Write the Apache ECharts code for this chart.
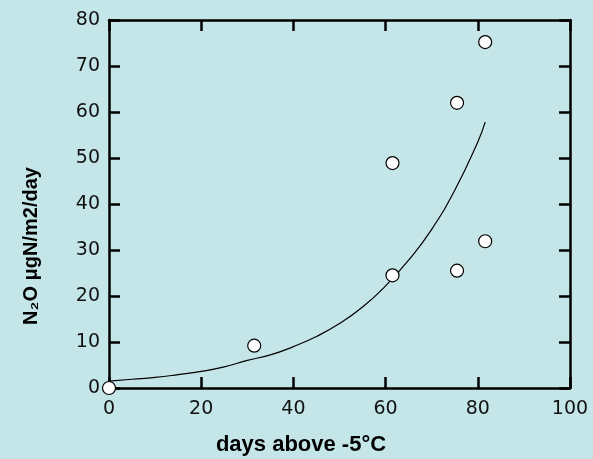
<!DOCTYPE html>
<html lang="en">
<head>
  <meta charset="UTF-8">
  <title>N2O vs days above -5°C</title>
  <script src="https://cdn.jsdelivr.net/npm/echarts@6.0.0/dist/echarts.min.js"></script>
  <style>
    html, body { margin: 0; padding: 0; background: #c5e6e8; }
  </style>
</head>
<body>

  <div id="main" style="width: 593px;height:459px;"></div>

  <script type="text/javascript">
    // Measured points (days, N2O)
    const pointDays = [0, 31.5, 61.5, 61.5, 75.5, 75.5, 81.6, 81.6];
    const pointN2O = [0, 9.2, 24.5, 48.9, 62.0, 25.5, 75.2, 31.9];

    // Fitted curve
    const curveDays = [0, 5, 10, 15, 20, 25, 30, 35, 40, 45, 50, 55, 60, 65, 70, 75, 80, 81.6];
    const curveN2O = [1.5, 1.9, 2.3, 2.9, 3.6, 4.6, 6.0, 7.2, 9.0, 11.2, 14.0, 17.6, 22.2, 27.8, 34.5, 43.0, 53.5, 57.8];

    const xTicks = [0, 20, 40, 60, 80, 100];
    const yTicks = [0, 10, 20, 30, 40, 50, 60, 70, 80];

    let myChart = echarts.init(document.getElementById('main'));

    const labelFont = { color: '#111', fontSize: 19, fontFamily: 'DejaVu Sans' };
    const lineStyle = { color: '#000', width: 2.5 };

    let options = {
      backgroundColor: '#c5e6e8',
      animation: false,
      grid: { left: 109, right: 23, top: 20, bottom: 71 },
      xAxis: [
        {
          type: 'value', min: 0, max: 100, interval: 20,
          axisLine: { show: true, onZero: false, lineStyle: lineStyle },
          axisTick: { show: true, inside: true, length: 11, lineStyle: lineStyle },
          axisLabel: Object.assign({ margin: 12, formatter: v => xTicks.includes(v) ? v : '' }, labelFont),
          splitLine: { show: false }
        },
        {
          type: 'value', position: 'top', min: 0, max: 100, interval: 20,
          axisLine: { show: true, onZero: false, lineStyle: lineStyle },
          axisTick: { show: true, inside: true, length: 11, lineStyle: lineStyle },
          axisLabel: { show: false },
          splitLine: { show: false }
        }
      ],
      yAxis: [
        {
          type: 'value', min: 0, max: 80, interval: 10,
          axisLine: { show: true, onZero: false, lineStyle: lineStyle },
          axisTick: { show: true, inside: true, length: 11, lineStyle: lineStyle },
          axisLabel: Object.assign({ margin: 9, formatter: v => yTicks.includes(v) ? v : '' }, labelFont),
          splitLine: { show: false }
        },
        {
          type: 'value', position: 'right', min: 0, max: 80, interval: 10,
          axisLine: { show: true, onZero: false, lineStyle: lineStyle },
          axisTick: { show: true, inside: true, length: 11, lineStyle: lineStyle },
          axisLabel: { show: false },
          splitLine: { show: false }
        }
      ],
      graphic: [
        {
          type: 'text', x: 301, y: 445,
          style: {
            text: 'days above -5°C', fill: '#000', fontSize: 22, fontWeight: 'bold',
            fontFamily: 'Liberation Sans', align: 'center', verticalAlign: 'middle'
          }
        },
        {
          type: 'text', x: 31, y: 246, rotation: Math.PI / 2,
          style: {
            text: 'N₂O μgN/m2/day', fill: '#000', fontSize: 20, fontWeight: 'bold',
            fontFamily: 'Liberation Sans', align: 'center', verticalAlign: 'middle'
          }
        }
      ],
      series: [
        {
          name: 'fit',
          type: 'line',
          data: curveDays.map((d, i) => [d, curveN2O[i]]),
          showSymbol: false,
          smooth: true,
          lineStyle: { color: '#000', width: 1.2 },
          z: 3
        },
        {
          name: 'observed',
          type: 'scatter',
          data: pointDays.map((d, i) => [d, pointN2O[i]]),
          symbol: 'circle',
          symbolSize: 13,
          clip: false,
          itemStyle: { color: '#fff', borderColor: '#000', borderWidth: 1.2, opacity: 1 },
          z: 10
        }
      ]
    };

    myChart.setOption(options);
  </script>
</body>
</html>
